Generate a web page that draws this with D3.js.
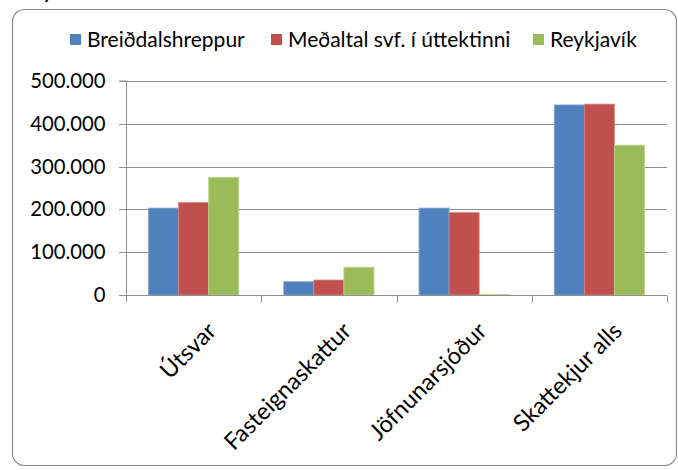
<!DOCTYPE html>
<html>
<head>
<meta charset="utf-8">
<script src="https://cdn.jsdelivr.net/npm/d3@7/dist/d3.min.js"></script>
<style>
  html, body { margin: 0; padding: 0; background: #fff; }
  svg { display: block; }
  text { font-family: Lato, "Open Sans", sans-serif; fill: #000; }
</style>
</head>
<body>
<svg id="chart" width="678" height="470"></svg>
<script>
const categories = ["Útsvar", "Fasteignaskattur", "Jöfnunarsjóður", "Skattekjur alls"];
const seriesNames = ["Breiðdalshreppur", "Meðaltal svf. í úttektinni", "Reykjavík"];
const breidalshreppur = [203000, 31000, 203000, 444000];
const medaltal = [216000, 35000, 192500, 446000];
const reykjavik = [275000, 65000, 1000, 350000];
const yTicks = [0, 100000, 200000, 300000, 400000, 500000];
const yTickLabels = ["0", "100.000", "200.000", "300.000", "400.000", "500.000"];
const colors = ["#4F81BD", "#C0504D", "#9BBB59"];
const strokes = ["#7FA3D3", "#D98583", "#BCD48C"];

const seriesValues = [breidalshreppur, medaltal, reykjavik];

const svg = d3.select("#chart");

// chart frame
svg.append("rect")
  .attr("x", 12.5).attr("y", 9.5)
  .attr("width", 664).attr("height", 456)
  .attr("rx", 12).attr("ry", 12)
  .attr("fill", "#fff").attr("stroke", "#8C8C8C").attr("stroke-width", 1.2);

// clipped title fragment
svg.append("text")
  .attr("x", 43).attr("y", -1)
  .attr("font-size", 18).attr("font-weight", "bold")
  .text("y");

const plot = { left: 126, right: 667, top: 81, bottom: 295 };

const x0 = d3.scaleBand().domain(categories).range([plot.left, plot.right]).paddingInner(0).paddingOuter(0);
const groupWidth = x0.bandwidth() * 3 / 4.5;
const x1 = d3.scaleBand().domain(d3.range(3)).range([0, groupWidth]).padding(0);
const y = d3.scaleLinear().domain([0, 500000]).range([plot.bottom, plot.top]);

// gridlines
svg.append("g")
  .selectAll("line")
  .data(yTicks.filter(d => d > 0))
  .join("line")
  .attr("x1", plot.left - 7).attr("x2", plot.right)
  .attr("y1", d => Math.round(y(d)) + 0.5).attr("y2", d => Math.round(y(d)) + 0.5)
  .attr("stroke", "#8E8E8E").attr("stroke-width", 1);

// y axis
const yAxis = d3.axisLeft(y).tickValues(yTicks).tickFormat((d, i) => yTickLabels[i]).tickSize(7).tickPadding(14);
const gy = svg.append("g").attr("transform", `translate(${plot.left + 0.5},0)`).call(yAxis);
gy.select(".domain").attr("stroke", "#8E8E8E").attr("d", `M-7,${plot.top}H0V${plot.bottom}`);
gy.selectAll(".tick line").attr("stroke", "#8E8E8E");
gy.selectAll(".tick").attr("transform", d => `translate(0,${Math.round(y(d)) + 0.5})`);
gy.selectAll(".tick text").attr("font-size", 20.3).attr("font-family", "Lato, sans-serif").attr("fill", "#000").attr("dy", "0.34em");

// bars
const groups = svg.append("g")
  .selectAll("g")
  .data(categories)
  .join("g")
  .attr("transform", d => `translate(${x0(d) + (x0.bandwidth() - groupWidth) / 2},0)`);

groups.selectAll("rect")
  .data((c, ci) => seriesValues.map((vals, si) => ({ si, v: vals[ci] })))
  .join("rect")
  .attr("x", d => x1(d.si))
  .attr("width", x1.bandwidth())
  .attr("y", d => y(d.v))
  .attr("height", d => y(0) - y(d.v))
  .attr("fill", d => colors[d.si])
  .attr("stroke", d => strokes[d.si])
  .attr("stroke-width", 0.8);

// x axis
const gx = svg.append("g").attr("transform", `translate(0,${plot.bottom + 0.5})`);
gx.append("line").attr("x1", plot.left - 7).attr("x2", plot.right).attr("stroke", "#8E8E8E");
const boundaries = categories.map(c => x0(c)).concat([x0(categories[categories.length - 1]) + x0.bandwidth()]);
gx.selectAll("line.tk")
  .data(boundaries)
  .join("line")
  .attr("class", "tk")
  .attr("x1", d => Math.round(d) + 0.5).attr("x2", d => Math.round(d) + 0.5)
  .attr("y1", 0).attr("y2", 7)
  .attr("stroke", "#8E8E8E");

gx.selectAll("text")
  .data(categories)
  .join("text")
  .attr("text-anchor", "end")
  .attr("font-size", 23.5)
  .attr("transform", d => `translate(${x0(d) + x0.bandwidth() / 2 + 24},${37}) rotate(-45)`)
  .text(d => d);

// legend
const legendItems = [
  { name: seriesNames[0], sx: 70, tx: 87 },
  { name: seriesNames[1], sx: 271, tx: 288 },
  { name: seriesNames[2], sx: 533, tx: 550 }
];
const lg = svg.append("g");
legendItems.forEach((it, i) => {
  lg.append("rect").attr("x", it.sx).attr("y", 34).attr("width", 11).attr("height", 11).attr("fill", colors[i]);
  lg.append("text").attr("x", it.tx).attr("y", 47).attr("font-size", 21).text(it.name);
});
</script>
</body>
</html>
